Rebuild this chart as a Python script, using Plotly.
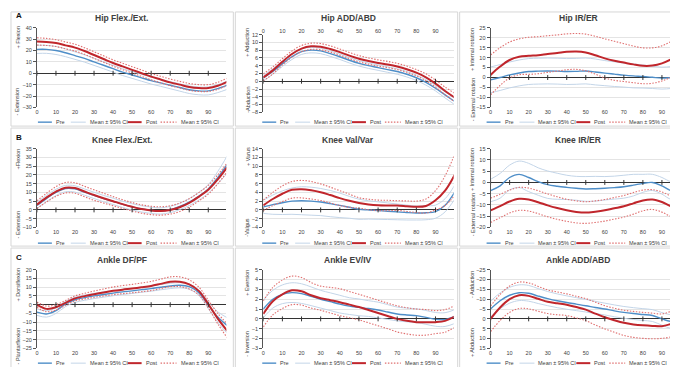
import plotly.graph_objects as go

W, H = 678, 367

# ---------------- data (x = % of cycle, every 5) ----------------
X = list(range(0, 101, 5))
XTICKS = list(range(0, 91, 10))

# Hip Flex./Ext.
HF_PRE = [21, 21, 20, 18, 15.5, 13, 10, 7, 4, 1, -1.5, -4, -6.5, -8.5, -10.5, -12.5, -14.5, -15.5, -15.5, -13.5, -10.5]
HF_PRE_CI = [3.6, 3.5, 3.5, 3.4, 3.3, 3.2, 3.1, 3, 3, 3, 3, 3, 3, 3, 3.1, 3.2, 3.3, 3.4, 3.5, 3.5, 3.6]
HF_POST = [28, 27.5, 26.5, 24.5, 22.5, 19.5, 16, 12.5, 9, 6, 3, 0, -3, -5.5, -8, -10, -12, -13, -13, -11, -7.5]
HF_POST_CI = [3.2, 3.1, 3, 3, 3, 2.9, 2.9, 2.8, 2.8, 2.8, 2.8, 2.8, 2.8, 2.8, 2.9, 2.9, 3, 3, 3, 3.1, 3.2]

# Hip ADD/ABD
HA_PRE = [0.8, 2.5, 4.5, 6.3, 7.6, 8.0, 7.8, 7.1, 6.3, 5.4, 4.6, 4.0, 3.5, 3.0, 2.5, 1.8, 0.9, -0.3, -1.8, -3.5, -5.2]
HA_PRE_CI = [0.8, 0.7, 0.7, 0.7, 0.7, 0.7, 0.7, 0.7, 0.7, 0.7, 0.7, 0.7, 0.7, 0.7, 0.7, 0.7, 0.7, 0.7, 0.7, 0.8, 0.8]
HA_POST = [1.0, 2.8, 5.0, 7.0, 8.4, 9.0, 8.9, 8.3, 7.5, 6.6, 5.8, 5.2, 4.7, 4.3, 3.8, 3.1, 2.2, 1.0, -0.6, -2.5, -4.2]
HA_POST_CI = [0.9, 0.9, 0.8, 0.8, 0.8, 0.8, 0.8, 0.8, 0.8, 0.8, 0.8, 0.8, 0.8, 0.8, 0.8, 0.8, 0.8, 0.9, 0.9, 1.0, 1.1]

# Hip IR/ER
HR_PRE = [-1.2, 0, 1.3, 2.3, 3.0, 3.2, 3.3, 3.2, 3.0, 3.1, 3.3, 2.8, 2.2, 1.7, 1.2, 0.8, 0.5, 0.1, -0.3, 0, 0.5]
HR_PRE_CI = [6.5, 6.5, 6.5, 6.5, 6.5, 6.5, 6.5, 6.5, 6.5, 6.5, 6.5, 6.5, 6.3, 6.2, 6, 6, 5.8, 5.6, 5.5, 5.5, 5.5]
HR_POST = [1.3, 5.5, 8.8, 10.4, 10.9, 11.2, 11.8, 12.3, 12.9, 13.1, 12.6, 11.2, 9.6, 8.4, 7.5, 6.6, 5.9, 6.0, 7.1, 9.2, 11.8]
HR_POST_CI = [10, 9.5, 9, 9, 9.3, 9.3, 9.2, 9.1, 9, 9, 9.2, 9.5, 9.8, 9.8, 9.5, 9.2, 9, 8.9, 8.8, 9, 9.3]

# Knee Flex./Ext.
KF_PRE = [2.6, 6.5, 10, 12.2, 12, 10.2, 8.3, 6.5, 4.9, 3.2, 1.7, 0.6, -0.2, -0.6, 0.2, 2, 4.5, 7.8, 12, 18.5, 26]
KF_PRE_CI = [1.8, 1.8, 1.8, 1.8, 1.8, 1.8, 1.8, 1.8, 1.8, 1.8, 1.8, 1.8, 1.8, 1.8, 1.8, 1.8, 2, 2.2, 2.5, 3.5, 5]
KF_POST = [3, 7, 10.5, 12.7, 12.5, 10.5, 8.5, 6.7, 5, 3.3, 1.8, 0.5, -0.3, -0.6, 0, 1.5, 4, 7.5, 11.5, 17.5, 24.5]
KF_POST_CI = [2.2, 2.5, 2.8, 3, 3, 3, 3, 2.8, 2.6, 2.5, 2.4, 2.4, 2.4, 2.4, 2.4, 2.4, 2.4, 2.4, 2.5, 2.6, 2.5]

# Knee Val/Var
KV_PRE = [0.7, 1.2, 1.65, 2.0, 2.1, 2.0, 1.8, 1.45, 1.05, 0.6, 0.15, 0, -0.15, -0.3, -0.45, -0.6, -0.7, -0.65, -0.4, 1.05, 4.05]
KV_PRE_CI = [1.5, 2.2, 2.7, 3, 3.2, 3.2, 3.1, 3, 2.8, 2.5, 2.3, 2.1, 2, 1.9, 1.8, 1.7, 1.6, 1.6, 1.5, 1.5, 1.6]
KV_POST = [1.05, 2.5, 3.7, 4.6, 4.75, 4.5, 4.05, 3.4, 2.7, 2.1, 1.6, 1.25, 1.05, 1.0, 1.0, 0.85, 0.7, 0.9, 2.2, 4.4, 8.0]
KV_POST_CI = [1.2, 1.5, 1.8, 1.9, 2.0, 2.0, 1.9, 1.8, 1.7, 1.5, 1.2, 1.2, 1.2, 1.2, 1.1, 1.2, 1.3, 1.6, 2.2, 3.4, 4.7]

# Knee IR/ER
KR_PRE = [-3.6, -1.5, 2.2, 3.6, 2.2, 0.4, -1, -1.7, -2.2, -2.6, -2.9, -2.8, -2.6, -2.3, -1.9, -1.2, -0.4, 0, -1.5, -3.6, -2.6]
KR_PRE_CI = [5, 5.5, 5.5, 5.9, 6.3, 6.1, 6.1, 5.8, 5.4, 5.3, 5.5, 5.5, 5.2, 5.1, 5.1, 4.8, 4.0, 3.6, 3.7, 3.9, 3.3]
KR_POST = [-12.4, -10.5, -8.5, -7.3, -7.6, -8.8, -10.2, -11.4, -12.4, -13.1, -13.4, -13.0, -12.4, -11.5, -10.6, -9.3, -8, -7.6, -8.7, -10.6, -10.5]
KR_POST_CI = [5.4, 5.2, 5.1, 5.1, 5.1, 5.1, 5.1, 5, 4.9, 4.9, 4.8, 4.8, 4.8, 4.8, 4.8, 4.8, 4.6, 4.4, 4.5, 4.5, 4.1]

# Ankle DF/PF
AD_PRE = [-4.3, -5.3, -3.4, 0.4, 2.8, 4, 5, 5.8, 6.6, 7.3, 7.9, 8.6, 9.2, 10, 10.7, 11.1, 10.3, 6.9, -0.2, -7.1, -12]
AD_PRE_CI = [1.8, 1.8, 1.6, 1.5, 1.5, 1.5, 1.5, 1.5, 1.5, 1.5, 1.5, 1.5, 1.5, 1.5, 1.5, 1.5, 1.5, 1.6, 2, 3, 4.5]
AD_POST = [0, -2.4, -1.5, 1, 3.6, 4.9, 6, 7, 7.9, 8.6, 9.2, 9.9, 10.7, 11.9, 13.1, 13.1, 11.6, 7.9, 0.4, -8, -15]
AD_POST_CI = [1.5, 1.6, 1.5, 1.4, 1.4, 1.6, 1.8, 2.0, 2.2, 2.3, 2.4, 2.5, 2.6, 2.7, 2.8, 2.8, 2.6, 2.2, 2.2, 3, 4]

# Ankle EV/IV
AE_PRE = [1.0, 2.0, 2.5, 2.67, 2.57, 2.3, 2.0, 1.75, 1.5, 1.3, 1.17, 1.05, 0.9, 0.7, 0.5, 0.4, 0.33, 0.15, -0.05, -0.07, 0.23]
AE_PRE_CI = [0.9, 0.9, 0.95, 1.0, 1.0, 0.95, 0.9, 0.9, 0.9, 0.85, 0.85, 0.8, 0.8, 0.75, 0.7, 0.7, 0.7, 0.7, 0.7, 0.7, 0.7]
AE_POST = [0.5, 1.8, 2.5, 2.9, 2.8, 2.4, 2.1, 1.9, 1.7, 1.45, 1.2, 0.9, 0.6, 0.3, 0, -0.2, -0.33, -0.35, -0.33, -0.2, 0.23]
AE_POST_CI = [1.33, 1.4, 1.45, 1.45, 1.4, 1.3, 1.23, 1.3, 1.37, 1.33, 1.3, 1.3, 1.3, 1.3, 1.33, 1.33, 1.33, 1.3, 1.17, 1.15, 1.1]

# Ankle ADD/ABD
AA_PRE = [-5, -9.2, -12, -13.3, -13, -11.6, -10.3, -9.2, -8.3, -7.5, -6.7, -5.8, -5, -4.1, -3.3, -2.7, -2.2, -1.7, 0, 1.3, 0]
AA_PRE_CI = [4, 4, 4, 4, 4, 3.8, 3.6, 3.5, 3.4, 3.3, 3.2, 3.1, 3, 3, 3, 3, 3, 3, 3.2, 3.5, 4]
AA_POST = [0, -5.8, -10, -12, -11.7, -10.2, -8.7, -7.9, -7.2, -6, -4.7, -2.7, -0.8, 0.7, 2, 2.8, 3.3, 3.6, 3.7, 2.5, 0]
AA_POST_CI = [6.5, 6.6, 6.7, 6.7, 6.6, 6.3, 6, 5.8, 5.5, 5.5, 5.6, 5.8, 5.9, 6.1, 6.4, 6.6, 6.6, 6.5, 6.2, 6.5, 6.3]

TITLES = ["Hip Flex./Ext.", "Hip ADD/ABD", "Hip IR/ER",
          "Knee Flex./Ext.", "Knee Val/Var", "Knee IR/ER",
          "Ankle DF/PF", "Ankle EV/IV", "Ankle ADD/ABD"]
UP_LABELS = ["+ Flexion", "+ Adduction", "+ Internal rotation",
             "+Flexion", "+ Varus", "+ Internal rotation",
             "+ Dorsiflexion", "+ Eversion", "- Adduction"]
DOWN_LABELS = ["- Extension", "-Abduction", "- External rotation",
               "- Extension", "-Valgus", "- External rotation",
               "- Plantarflexion", "- Inversion", "+ Abduction"]
Y_RANGES = [(-30, 40), (-8, 12), (-15, 25),
            (-10, 35), (-4, 14), (-20, 15),
            (-25, 20), (-3, 5), (-25, 15)]
Y_DTICK = [10, 2, 5, 5, 2, 5, 5, 1, 5]
PANEL_LETTERS = ["A", "B", "C"]
LEGEND_NAMES = ["Pre", "Mean ± 95% CI", "Post", "Mean ± 95% CI"]

SERIES = [
    (HF_PRE, HF_PRE_CI, HF_POST, HF_POST_CI),
    (HA_PRE, HA_PRE_CI, HA_POST, HA_POST_CI),
    (HR_PRE, HR_PRE_CI, HR_POST, HR_POST_CI),
    (KF_PRE, KF_PRE_CI, KF_POST, KF_POST_CI),
    (KV_PRE, KV_PRE_CI, KV_POST, KV_POST_CI),
    (KR_PRE, KR_PRE_CI, KR_POST, KR_POST_CI),
    (AD_PRE, AD_PRE_CI, AD_POST, AD_POST_CI),
    (AE_PRE, AE_PRE_CI, AE_POST, AE_POST_CI),
    (AA_PRE, AA_PRE_CI, AA_POST, AA_POST_CI),
]

# ---------------- styling / layout ----------------
C_PRE = "#4e8ec8"
C_PRE_CI = "#c3d5e8"
C_POST = "#c0262c"
C_POST_CI = "#e07070"
DOT = "1.5px,1.5px"
FONT = "Liberation Sans"

COL_PX = [(27, 217), (254, 445), (482, 672)]
ROW_PX = [(17, 98), (140, 220), (263, 343)]
PANEL_COL = [(1, 224), (226, 449), (451, 677)]
PANEL_ROW = [(1, 117), (119, 239), (241, 366)]
TITLE_Y = [7, 131, 253]
TITLE_X = [112, 339, 570]
LEG_Y = [113, 236, 358]
YLAB_X = [8, 238, 464]
YLAB_UP_Y = [27, 32, 39, 150, 148, 161, 278, 276, 278]
YLAB_DN_Y = [92, 90, 90, 217, 220, 207, 340, 338, 337]
LEG_LINES = [(27, 41), (60, 75), (117, 131), (150, 166)]


def px(x):
    return x / W


def py(y):
    return 1 - y / H


def band(mean, ci, sign):
    return [m + sign * c for m, c in zip(mean, ci)]


fig = go.Figure()
layout = dict(
    width=W, height=H, margin=dict(l=0, r=0, t=0, b=0),
    paper_bgcolor="white", plot_bgcolor="white", showlegend=False,
    font=dict(family=FONT, size=6, color="#404040"),
)
shapes = []
annotations = []

for i in range(9):
    r, c = divmod(i, 3)
    k = "" if i == 0 else str(i + 1)
    xa, ya = "x" + k, "y" + k
    x0, x1 = COL_PX[c]
    y0, y1 = ROW_PX[r]
    if i == 1:
        y0, y1 = 24, 103
    pre, pre_ci, post, post_ci = SERIES[i]
    lo, hi = Y_RANGES[i]

    def add(y, color, width, dash="solid"):
        fig.add_trace(go.Scatter(
            x=X, y=y, mode="lines", xaxis=xa, yaxis=ya,
            line=dict(color=color, width=width, dash=dash, shape="spline", smoothing=1),
            hoverinfo="skip", showlegend=False))

    add(band(pre, pre_ci, 1), C_PRE_CI, 1)
    add(band(pre, pre_ci, -1), C_PRE_CI, 1)
    add(pre, C_PRE, 1.4)
    add(band(post, post_ci, 1), C_POST_CI, 1.1, DOT)
    add(band(post, post_ci, -1), C_POST_CI, 1.1, DOT)
    add(post, C_POST, 2)
    # tick marks on the zero line
    fig.add_trace(go.Scatter(
        x=XTICKS, y=[0] * len(XTICKS), mode="markers", xaxis=xa, yaxis=ya,
        marker=dict(symbol="line-ns-open", size=3.5, color="#333333",
                    line=dict(color="#333333", width=1)),
        hoverinfo="skip", showlegend=False))

    layout["xaxis" + k] = dict(
        domain=[px(x0), px(x1)], anchor=ya, range=[0, 99.5],
        tickvals=XTICKS, showgrid=False, zeroline=False, showline=False,
        ticks="", tickfont=dict(size=5.5, color="#404040"),
        side="top" if i == 1 else "bottom", fixedrange=True)
    yrng = [hi, lo] if i == 8 else [lo, hi]
    layout["yaxis" + k] = dict(
        domain=[py(y1), py(y0)], anchor=xa, range=yrng, dtick=Y_DTICK[i],
        tick0=0, showgrid=True, gridcolor="#e4e4e4", gridwidth=0.8,
        zeroline=True, zerolinecolor="#333333", zerolinewidth=1,
        showline=True, linecolor="#555555", linewidth=1,
        ticks="outside", ticklen=3, tickcolor="#555555",
        tickfont=dict(size=5.5, color="#404040"), fixedrange=True)

    # panel border
    bx0, bx1 = PANEL_COL[c]
    by0, by1 = PANEL_ROW[r]
    shapes.append(dict(type="rect", xref="paper", yref="paper",
                       x0=px(bx0), x1=px(bx1), y0=py(by1), y1=py(by0),
                       line=dict(color="#d6d6d6", width=1)))
    # title
    annotations.append(dict(text="<b>" + TITLES[i] + "</b>", x=px(TITLE_X[c]), y=py(TITLE_Y[r]),
                            xref="paper", yref="paper", showarrow=False,
                            xanchor="center", yanchor="middle",
                            font=dict(size=8.5, color="#404040")))
    # y labels
    for txt, yy in ((UP_LABELS[i], YLAB_UP_Y[i]), (DOWN_LABELS[i], YLAB_DN_Y[i])):
        annotations.append(dict(text=txt, x=px(YLAB_X[c]), y=py(yy), xref="paper", yref="paper",
                                showarrow=False, textangle=-90, xanchor="center", yanchor="middle",
                                font=dict(size=5.5, color="#404040")))
    # legend
    ly = py(LEG_Y[r])
    styles = [(C_PRE, 1.4, "solid"), (C_PRE_CI, 1, "solid"), (C_POST, 2, "solid"), (C_POST_CI, 1.1, DOT)]
    for (lx0, lx1), name, (col, wd, ds) in zip(LEG_LINES, LEGEND_NAMES, styles):
        shapes.append(dict(type="line", xref="paper", yref="paper",
                           x0=px(bx0 + lx0), x1=px(bx0 + lx1), y0=ly, y1=ly,
                           line=dict(color=col, width=wd, dash=ds)))
        annotations.append(dict(text=name, x=px(bx0 + lx1 + 2), y=ly, xref="paper", yref="paper",
                                showarrow=False, xanchor="left", yanchor="middle",
                                font=dict(size=5.5, color="#404040")))

for r, letter in enumerate(PANEL_LETTERS):
    annotations.append(dict(text="<b>" + letter + "</b>", x=px(4), y=py(TITLE_Y[r] - 2),
                            xref="paper", yref="paper", showarrow=False,
                            xanchor="left", yanchor="middle",
                            font=dict(size=8, color="#111111")))

layout["shapes"] = shapes
layout["annotations"] = annotations
fig.update_layout(**layout)
fig.write_html("out.html")
